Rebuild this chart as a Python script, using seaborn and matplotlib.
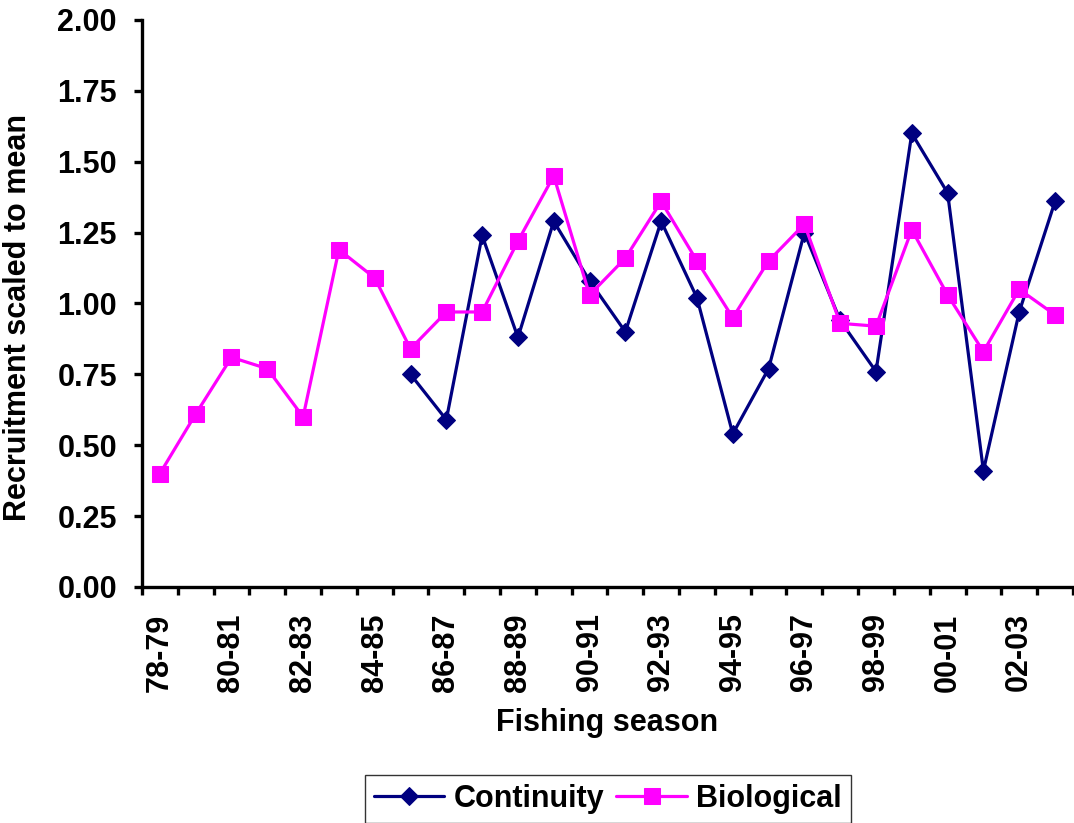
import seaborn as sns
import numpy as np
import pandas as pd
import matplotlib.pyplot as plt

seasons = ["78-79", "79-80", "80-81", "81-82", "82-83", "83-84", "84-85", "85-86",
           "86-87", "87-88", "88-89", "89-90", "90-91", "91-92", "92-93", "93-94",
           "94-95", "95-96", "96-97", "97-98", "98-99", "99-00", "00-01", "01-02",
           "02-03", "03-04"]
biological = [0.40, 0.61, 0.81, 0.77, 0.60, 1.19, 1.09, 0.84, 0.97, 0.97, 1.22, 1.45,
              1.03, 1.16, 1.36, 1.15, 0.95, 1.15, 1.28, 0.93, 0.92, 1.26, 1.03, 0.83,
              1.05, 0.96]
continuity = [np.nan] * 7 + [0.75, 0.59, 1.24, 0.88, 1.29, 1.08, 0.90, 1.29, 1.02,
                             0.54, 0.77, 1.25, 0.94, 0.76, 1.60, 1.39, 0.41, 0.97, 1.36]
yticks = [0.0, 0.25, 0.5, 0.75, 1.0, 1.25, 1.5, 1.75, 2.0]

df = pd.DataFrame({"pos": np.arange(len(seasons)), "season": seasons,
                   "Continuity": continuity, "Biological": biological})

sns.set_style("white")
plt.rcParams["font.family"] = ["Liberation Sans", "DejaVu Sans"]
plt.rcParams["font.weight"] = "bold"
plt.rcParams["text.color"] = "black"
plt.rcParams["axes.labelcolor"] = "black"
plt.rcParams["xtick.color"] = "black"
plt.rcParams["ytick.color"] = "black"

fs = 22

fig = plt.figure(figsize=(10.74, 8.23), dpi=100)
ax = fig.add_axes([0.1322, 0.2868, 0.8668, 0.6889])

sns.lineplot(data=df, x="pos", y="Continuity", ax=ax, color="#000080", lw=2.3,
             marker="D", markersize=9.5, markeredgecolor="#000080", label="Continuity")
sns.lineplot(data=df, x="pos", y="Biological", ax=ax, color="#FF00FF", lw=2.3,
             marker="s", markersize=12, markeredgecolor="#FF00FF", label="Biological")

ax.set_xlim(-0.5, len(seasons) - 0.5)
ax.set_ylim(0, 2.0)
ax.set_yticks(yticks)
ax.set_yticklabels([f"{t:.2f}" for t in yticks], fontsize=fs, fontweight="bold")
ax.set_xticks(np.arange(-0.5, len(seasons), 1.0))
ax.set_xticklabels([])
ax.set_xticks(np.arange(0, len(seasons), 2), minor=True)
ax.set_xticklabels(seasons[::2], minor=True, rotation=90, fontsize=fs, fontweight="bold")
ax.tick_params(axis="x", which="major", direction="out", length=6, width=2.4, bottom=True)
ax.tick_params(axis="x", which="minor", length=0, pad=19)
ax.tick_params(axis="y", direction="out", length=6, width=2.4, left=True, pad=12)

for s in ["top", "right"]:
    ax.spines[s].set_visible(False)
for s in ["left", "bottom"]:
    ax.spines[s].set_linewidth(2.4)
    ax.spines[s].set_color("black")

ax.set_xlabel("Fishing season", fontsize=fs, fontweight="bold", va="top")
ax.xaxis.set_label_coords(0.5, -0.213)
ax.set_ylabel("Recruitment scaled to mean", fontsize=fs, fontweight="bold")
ax.yaxis.set_label_coords(-0.117, 0.476)

leg = ax.legend(loc="upper left", bbox_to_anchor=(365 / 1074, 1 - 775 / 823),
                bbox_transform=fig.transFigure, ncol=2, frameon=True, fancybox=False,
                edgecolor="black", prop={"weight": "bold", "size": fs},
                handlelength=2.3, columnspacing=0.4, handletextpad=0.3, borderpad=0.3,
                borderaxespad=0)
leg.get_frame().set_linewidth(1.0)

plt.savefig("out.png", dpi=100)
